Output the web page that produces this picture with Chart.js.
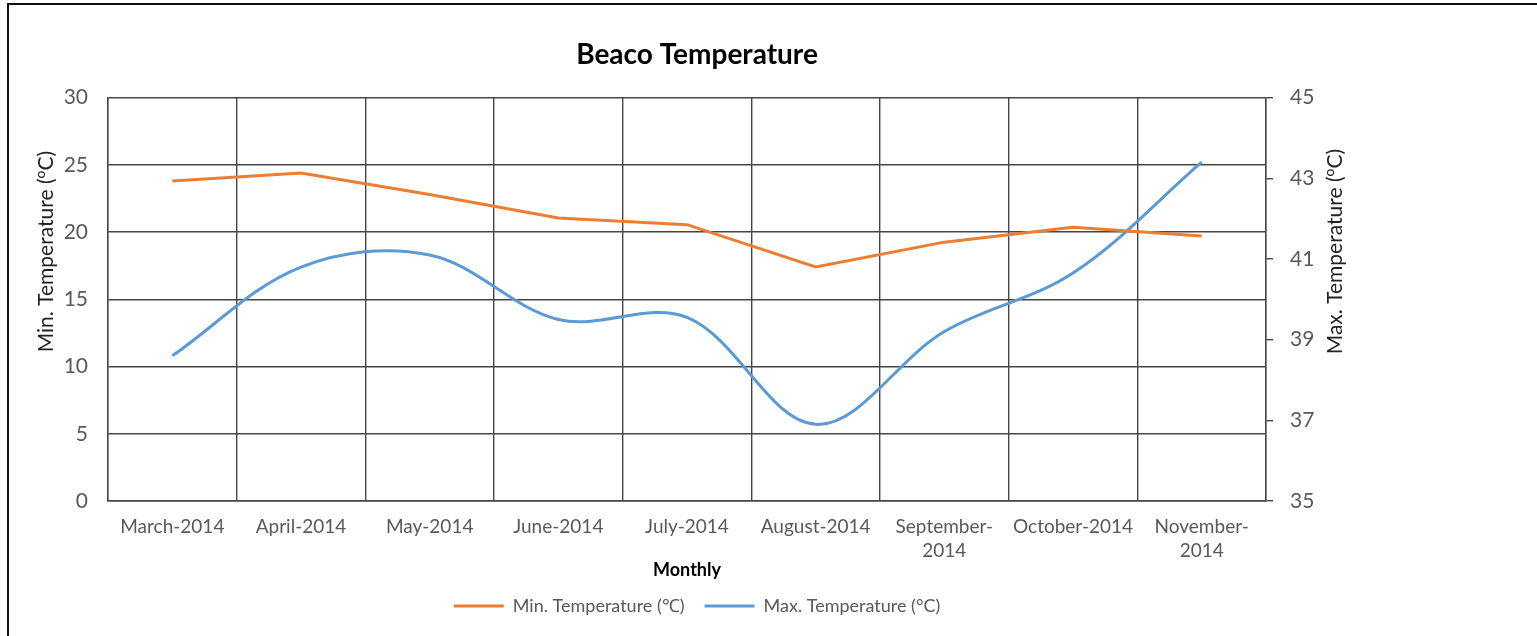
<!DOCTYPE html>
<html>
<head>
<meta charset="utf-8">
<script src="https://cdn.jsdelivr.net/npm/chart.js@4.4.1/dist/chart.umd.min.js"></script>
<style>
  html, body { margin: 0; padding: 0; background: #fff; overflow: hidden; }
  #frame { position: absolute; left: 7px; top: 3px; width: 1600px; height: 700px;
           border-top: 2px solid #111; border-left: 2px solid #111; }
  #box { position: absolute; left: 0; top: 0; width: 1376px; height: 631px; }
</style>
</head>
<body>
<div id="frame"><div id="box"><canvas id="tempChart"></canvas></div></div>
<script>
const months = ["March-2014", "April-2014", "May-2014", "June-2014", "July-2014",
                "August-2014", "September-2014", "October-2014", "November-2014"];
const minTemp = [23.8, 24.4, 22.8, 21.05, 20.55, 17.4, 19.25, 20.35, 19.7];
const maxTemp = [38.6, 40.8, 41.1, 39.5, 39.55, 36.9, 39.2, 40.65, 43.4];
const minAxis = [0, 30, 5];   // min, max, step
const maxAxis = [35, 45, 2];

const FONT = 'Lato, "Liberation Sans", sans-serif';
const TICK_COLOR = '#595959';
const GRID_COLOR = '#464646';

// axis titles are drawn by hand so the right one reads bottom-to-top, with a raised "o"
function drawVerticalTitle(ctx, before, after, x, y) {
    ctx.save();
    ctx.translate(x, y);
    ctx.rotate(-Math.PI / 2);
    ctx.fillStyle = '#222';
    ctx.textBaseline = 'middle';
    ctx.textAlign = 'left';
    const big = '21px ' + FONT, small = '14px ' + FONT;
    ctx.font = big;
    const w1 = ctx.measureText(before).width;
    const w3 = ctx.measureText(after).width;
    ctx.font = small;
    const w2 = ctx.measureText('o').width;
    let sx = -(w1 + w2 + w3) / 2;
    ctx.font = big;
    ctx.fillText(before, sx, 0);
    ctx.font = small;
    ctx.fillText('o', sx + w1, -6);
    ctx.font = big;
    ctx.fillText(after, sx + w1 + w2, 0);
    ctx.restore();
}

const axisTitles = {
    id: 'axisTitles',
    afterDraw(chart) {
        const ctx = chart.ctx;
        const midY = chart.chartArea.top + 154;
        drawVerticalTitle(ctx, 'Min. Temperature (', 'C)', chart.scales.y.left + 37, midY);
        drawVerticalTitle(ctx, 'Max. Temperature (', 'C)', chart.scales.y1.right - 50, midY);
    }
};

const ctx = document.getElementById("tempChart").getContext("2d");

new Chart(ctx, {
    type: "line",
    data: {
        labels: months,
        datasets: [{
            label: "Min. Temperature (\u2103)",
            data: minTemp,
            yAxisID: "y",
            borderColor: "#ED7D31",
            backgroundColor: "#ED7D31",
            borderWidth: 3,
            pointRadius: 0,
            tension: 0
        }, {
            label: "Max. Temperature (\u00B0C)",
            data: maxTemp,
            yAxisID: "y1",
            borderColor: "#5B9BD5",
            backgroundColor: "#5B9BD5",
            borderWidth: 3,
            pointRadius: 0,
            tension: 0.35
        }]
    },
    options: {
        responsive: true,
        maintainAspectRatio: false,
        animation: false,
        layout: { padding: { left: 0, right: 0, top: 0, bottom: 11 } },
        plugins: {
            title: {
                display: true,
                text: "Beaco Temperature",
                color: "#000",
                font: { family: FONT, size: 28, weight: "bold" },
                padding: { top: 33, bottom: 26 }
            },
            legend: {
                position: "bottom",
                labels: {
                    usePointStyle: true,
                    pointStyle: "line",
                    pointStyleWidth: 50,
                    color: TICK_COLOR,
                    font: { family: FONT, size: 18 },
                    padding: 20
                }
            },
            tooltip: { enabled: false }
        },
        scales: {
            x: {
                offset: true,
                grid: { offset: true, color: GRID_COLOR, lineWidth: 1.4, drawTicks: false },
                border: { color: GRID_COLOR, width: 1.4 },
                ticks: {
                    autoSkip: false,
                    maxRotation: 0,
                    padding: 14,
                    color: TICK_COLOR,
                    font: { family: FONT, size: 19, lineHeight: 1.263 },
                    callback: function (value) {
                        const s = this.getLabelForValue(value);
                        if (s.length > 12) {
                            const i = s.indexOf("-");
                            return [s.slice(0, i + 1), s.slice(i + 1)];
                        }
                        return s;
                    }
                },
                title: {
                    display: true,
                    text: "Monthly",
                    color: "#000",
                    font: { family: FONT, size: 18, weight: "bold" },
                    padding: { top: 0, bottom: -4 }
                },
                afterFit(scale) { scale.height = 76; }
            },
            y: {
                position: "left",
                min: minAxis[0],
                max: minAxis[1],
                grid: { color: GRID_COLOR, lineWidth: 1.4, drawTicks: false },
                border: { color: GRID_COLOR, width: 1.4 },
                ticks: {
                    stepSize: minAxis[2],
                    padding: 20,
                    color: TICK_COLOR,
                    font: { family: FONT, size: 21 }
                },
                afterFit(scale) { scale.width = 99; }
            },
            y1: {
                position: "right",
                min: maxAxis[0],
                max: maxAxis[1],
                grid: { drawOnChartArea: false, color: GRID_COLOR, lineWidth: 1.4, tickLength: 7 },
                border: { color: GRID_COLOR, width: 1.4 },
                ticks: {
                    stepSize: maxAxis[2],
                    padding: 17,
                    color: TICK_COLOR,
                    font: { family: FONT, size: 21 }
                },
                afterFit(scale) { scale.width = 119; }
            }
        }
    },
    plugins: [axisTitles]
});
</script>
</body>
</html>
